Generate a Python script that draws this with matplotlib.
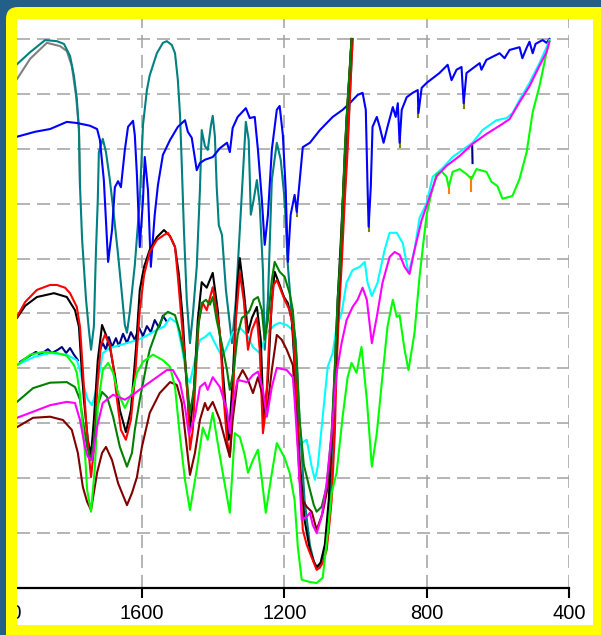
import matplotlib
matplotlib.use("Agg")
import matplotlib.pyplot as plt
from matplotlib.patches import FancyBboxPatch, Rectangle
import numpy as np

plt.rcParams['font.family'] = ['Liberation Sans', 'DejaVu Sans']
plt.rcParams['lines.scale_dashes'] = False

nan = np.nan

# IR spectra: (wavenumber cm-1, transmittance %)
gray_pts = [(1951, 92.7), (1914, 96.4), (1867, 99.3), (1830, 98.7), (1811, 97.8),
            (1797, 95.1), (1785, 89.6), (1777, 83.6), (1774, 73.2)]

teal_pts = [(1951, 95.4), (1914, 97.6), (1872, 99.8), (1839, 99.6), (1819, 99.1), (1802, 96.9),
            (1791, 93.3), (1783, 89.1), (1777, 83.6), (1774, 73.2), (1768, 63.4), (1757, 52.5),
            (1749, 47.0), (1743, 43.4), (1735, 47.6), (1729, 61.6), (1724, 70.7), (1721, 79.4),
            (1710, 81.8), (1701, 79.4), (1690, 74.3), (1679, 68.0), (1667, 60.7), (1656, 53.4),
            (1648, 47.9), (1642, 46.5), (1634, 50.3), (1620, 58.8), (1606, 70.7), (1597, 84.3),
            (1586, 90.7), (1578, 93.4), (1558, 97.4), (1541, 99.3), (1530, 99.6), (1516, 98.9),
            (1507, 97.4), (1499, 92.5), (1493, 86.2), (1488, 77.1), (1482, 65.2), (1474, 52.5),
            (1465, 44.6), (1457, 49.7), (1446, 58.5), (1437, 72.5), (1432, 83.4), (1423, 80.5),
            (1415, 79.8), (1406, 84.3), (1401, 86.0), (1395, 82.3), (1390, 73.2), (1384, 66.1),
            (1375, 64.3), (1364, 54.3), (1347, 44.6), (1336, 52.5), (1325, 65.2), (1314, 78.0),
            (1308, 84.9), (1300, 81.6), (1294, 68.0), (1286, 70.7), (1277, 74.3), (1269, 69.8),
            (1260, 57.9), (1255, 43.4), (1246, 52.5), (1235, 74.3), (1221, 81.1), (1210, 78.0),
            (1199, 70.7), (1190, 58.8), (1179, 49.7), (1168, 45.2), (1157, 30.6), (1143, 16.0),
            (1128, 7.8), (1117, 4.8), (1109, 3.7), (1098, 4.2), (1084, 7.8), (1072, 15.1),
            (1064, 25.2), (1055, 37.9), (1047, 52.5), (1036, 65.2), (1025, 78.0), (1016, 88.9),
            (1008, 100.0)]

blue_pts = [(1951, 82.2), (1900, 83.1), (1858, 83.6), (1811, 84.9), (1783, 84.7), (1746, 84.2),
            (1726, 83.6), (1718, 81.6), (1707, 74.3), (1695, 59.4), (1684, 65.2), (1676, 73.0),
            (1667, 74.1), (1659, 73.0), (1648, 79.8), (1639, 84.0), (1625, 85.1), (1620, 82.5),
            (1614, 75.2), (1606, 62.1), (1597, 70.7), (1592, 78.5), (1583, 72.5), (1575, 58.5),
            (1564, 68.0), (1555, 73.4), (1541, 78.9), (1521, 81.6), (1499, 84.0), (1479, 85.2),
            (1471, 83.1), (1460, 82.0), (1446, 76.1), (1437, 77.4), (1423, 78.0), (1401, 78.5),
            (1381, 80.1), (1361, 81.1), (1353, 79.4), (1345, 83.8), (1331, 85.8), (1308, 87.4),
            (1297, 85.6), (1283, 85.8), (1274, 79.8), (1263, 70.7), (1255, 62.5), (1246, 67.9),
            (1235, 79.8), (1221, 87.1), (1213, 87.8), (1204, 82.5), (1196, 72.5), (1190, 59.4),
            (1182, 68.0), (1171, 71.6), (1165, 68.5), (1157, 74.0), (1148, 80.3), (1128, 81.1),
            (1100, 83.4), (1064, 85.8), (1036, 87.1), (1016, 88.3), (994, 89.8), (980, 90.2),
            (971, 87.1), (966, 73.0), (963, 65.8), (957, 73.0), (952, 84.0), (940, 85.8),
            (932, 84.0), (921, 81.1), (910, 84.0), (895, 87.6), (887, 85.8), (881, 88.3),
            (876, 81.1), (870, 87.1), (856, 89.4), (839, 90.2), (825, 90.7), (823, 86.5),
            (814, 91.1), (800, 92.0), (764, 93.8), (741, 95.3), (730, 92.5), (716, 94.4),
            (702, 94.9), (696, 88.3), (688, 93.8), (651, 95.6), (646, 94.4), (632, 96.2),
            (595, 97.4), (581, 96.5), (567, 98.0), (539, 98.5), (531, 96.5), (519, 98.4),
            (511, 99.5), (502, 97.4), (494, 99.1), (483, 99.5), (474, 99.8), (463, 99.3),
            (455, 100.0)]

olive_pts = [(963, 67.0), (963, 65.0), (nan, nan), (876, 82.0), (876, 80.3), (nan, nan),
             (823, 87.4), (823, 85.7), (nan, nan), (696, 89.0), (696, 87.5), (nan, nan),
             (1165, 69.5), (1165, 67.8)]

black_pts = [(1951, 49.2), (1928, 51.4), (1895, 53.0), (1847, 53.7), (1811, 53.0), (1788, 50.6),
             (1777, 47.6), (1771, 41.5), (1763, 34.3), (1752, 27.0), (1743, 24.2), (1735, 30.6),
             (1724, 41.5), (1712, 47.9), (1701, 46.1), (1690, 43.9), (1676, 38.8), (1662, 32.4),
             (1645, 28.4), (1631, 32.4), (1617, 43.4), (1606, 54.3), (1594, 58.5), (1578, 61.6),
             (1558, 63.9), (1538, 65.2), (1521, 64.1), (1507, 62.1), (1496, 57.0), (1485, 48.8),
             (1477, 39.7), (1465, 28.8), (1454, 36.1), (1443, 48.8), (1432, 55.7), (1418, 54.7),
             (1401, 57.4), (1387, 50.6), (1375, 41.5), (1364, 32.4), (1356, 27.0), (1345, 37.9),
             (1333, 54.3), (1325, 60.1), (1314, 54.3), (1302, 46.5), (1291, 49.2), (1277, 51.2),
             (1266, 45.2), (1258, 30.6), (1246, 37.9), (1235, 52.5), (1227, 57.6), (1213, 55.2),
             (1201, 53.0), (1190, 51.9), (1179, 48.8), (1168, 37.9), (1157, 23.3), (1143, 12.4),
             (1128, 6.9), (1117, 4.8), (1109, 3.8), (1098, 4.6), (1086, 7.9), (1075, 16.0),
             (1067, 27.0), (1058, 39.7), (1050, 52.5), (1041, 63.4), (1033, 74.3), (1025, 85.2),
             (1016, 94.4), (1011, 100.0)]

red_pts = [(1951, 49.4), (1928, 52.1), (1895, 54.3), (1858, 55.2), (1839, 55.2), (1816, 54.7),
           (1802, 53.7), (1783, 51.2), (1774, 47.6), (1766, 39.7), (1757, 30.6), (1749, 24.2),
           (1743, 20.2), (1735, 25.2), (1724, 37.9), (1715, 44.3), (1704, 46.1), (1690, 44.3),
           (1681, 40.6), (1670, 34.3), (1659, 28.8), (1645, 27.0), (1631, 30.6), (1620, 37.9),
           (1606, 50.6), (1594, 57.0), (1578, 61.2), (1558, 63.4), (1538, 64.3), (1527, 64.7),
           (1516, 63.4), (1507, 62.1), (1499, 56.7), (1488, 48.3), (1479, 41.5), (1471, 34.3),
           (1465, 25.2), (1457, 28.8), (1448, 39.7), (1440, 48.8), (1429, 51.9), (1418, 50.6),
           (1409, 52.8), (1401, 54.8), (1390, 50.6), (1381, 46.5), (1370, 34.3), (1361, 27.0),
           (1353, 23.9), (1345, 32.4), (1336, 48.8), (1325, 57.4), (1314, 52.5), (1302, 43.4),
           (1291, 47.0), (1277, 49.2), (1269, 43.4), (1260, 28.2), (1252, 32.4), (1241, 47.0),
           (1230, 55.2), (1221, 56.1), (1210, 54.3), (1199, 52.5), (1185, 50.6), (1176, 47.6),
           (1165, 34.3), (1157, 21.5), (1148, 10.6), (1137, 7.9), (1128, 6.4), (1117, 4.6),
           (1109, 3.3), (1100, 3.7), (1092, 4.6), (1081, 6.9), (1072, 12.4), (1067, 16.0),
           (1058, 28.2), (1053, 40.3), (1047, 49.4), (1039, 58.5), (1030, 70.7), (1022, 79.8),
           (1016, 88.9), (1008, 100.0)]

green_pts = [(1951, 33.9), (1906, 36.4), (1858, 37.4), (1811, 37.5), (1788, 36.6), (1774, 34.3),
             (1766, 30.6), (1754, 25.7), (1743, 23.3), (1735, 27.0), (1726, 33.0), (1712, 35.7),
             (1698, 34.8), (1681, 31.2), (1662, 25.7), (1642, 22.1), (1628, 24.6), (1620, 28.8),
             (1606, 34.3), (1586, 41.0), (1578, 43.4), (1558, 47.0), (1538, 49.7), (1527, 50.3),
             (1507, 49.7), (1493, 46.5), (1479, 41.5), (1465, 31.9), (1454, 36.1), (1443, 47.0),
             (1432, 51.9), (1420, 52.5), (1409, 51.6), (1401, 53.0), (1390, 48.8), (1375, 44.3),
             (1361, 39.7), (1353, 36.1), (1342, 39.7), (1331, 46.1), (1319, 49.2), (1308, 49.7),
             (1297, 50.6), (1286, 52.5), (1274, 53.0), (1263, 50.6), (1255, 45.2), (1246, 48.8),
             (1235, 56.1), (1227, 59.4), (1213, 57.6), (1199, 56.7), (1185, 53.7), (1176, 50.6),
             (1165, 41.5), (1157, 30.6), (1145, 22.4), (1128, 17.9), (1117, 15.1), (1109, 13.9),
             (1095, 14.8), (1081, 18.4), (1067, 28.2), (1058, 40.3), (1050, 52.5), (1041, 61.6),
             (1030, 79.8), (1022, 88.9), (1016, 94.9), (1011, 100.0)]

brown_pts = [(1951, 29.3), (1906, 31.0), (1858, 31.2), (1822, 30.6), (1797, 28.8), (1780, 24.6),
             (1766, 18.4), (1754, 15.7), (1743, 14.2), (1726, 21.0), (1712, 24.6), (1701, 25.7),
             (1684, 23.3), (1667, 19.1), (1642, 15.1), (1628, 17.3), (1614, 20.2), (1600, 25.7),
             (1578, 31.9), (1550, 35.5), (1521, 37.5), (1502, 37.0), (1488, 33.7), (1474, 25.7),
             (1465, 20.6), (1451, 24.6), (1437, 30.6), (1423, 33.7), (1415, 32.4), (1401, 33.9),
             (1381, 30.6), (1361, 25.7), (1353, 23.9), (1345, 30.6), (1331, 37.9), (1317, 39.7),
             (1302, 37.9), (1288, 35.5), (1274, 38.4), (1260, 34.8), (1249, 31.9), (1235, 39.7),
             (1221, 46.1), (1207, 45.2), (1193, 43.4), (1176, 40.6), (1165, 30.6), (1157, 19.7),
             (1148, 16.0), (1137, 14.8), (1123, 13.9), (1109, 10.6), (1092, 13.7), (1078, 18.4),
             (1067, 26.1), (1058, 36.1), (1050, 48.8), (1041, 61.6), (1033, 74.3), (1025, 85.2),
             (1016, 94.4), (1011, 100.0)]

lime_pts = [(1951, 40.6), (1914, 42.5), (1878, 43.0), (1839, 42.8), (1811, 42.3), (1791, 40.6),
            (1783, 39.2), (1774, 35.2), (1768, 30.6), (1760, 24.6), (1754, 17.9), (1743, 13.9),
            (1732, 22.1), (1724, 33.0), (1710, 39.7), (1695, 41.0), (1681, 39.2), (1667, 35.5),
            (1648, 32.8), (1628, 35.5), (1614, 39.2), (1597, 41.2), (1569, 42.5), (1541, 41.5),
            (1521, 40.3), (1507, 36.6), (1493, 27.5), (1479, 19.7), (1465, 14.2), (1446, 21.5),
            (1429, 29.2), (1415, 27.0), (1401, 31.9), (1387, 26.4), (1373, 21.0), (1353, 13.7),
            (1339, 28.2), (1325, 27.5), (1311, 24.2), (1302, 21.0), (1288, 23.3), (1274, 25.2),
            (1263, 19.7), (1252, 13.7), (1238, 19.7), (1221, 26.4), (1199, 23.7), (1185, 21.0),
            (1171, 16.0), (1162, 7.5), (1151, 1.5), (1128, 1.1), (1109, 0.9), (1092, 1.9),
            (1078, 10.0), (1067, 17.3), (1053, 21.0), (1036, 31.2), (1022, 38.4), (1011, 41.0),
            (997, 39.2), (983, 43.9), (968, 34.3), (954, 22.1), (940, 28.2), (926, 37.4),
            (910, 47.6), (895, 52.5), (884, 49.4), (876, 49.7), (862, 43.4), (851, 39.7),
            (834, 46.5), (820, 56.7), (806, 64.7), (800, 68.0), (786, 72.1), (772, 75.4),
            (758, 75.9), (744, 74.9), (738, 73.0), (727, 75.8), (707, 76.3), (688, 75.4),
            (674, 74.5), (660, 76.3), (632, 75.8), (618, 74.0), (601, 73.2), (587, 70.9),
            (559, 71.4), (539, 74.5), (519, 79.4), (502, 86.7), (483, 91.4), (463, 97.6),
            (455, 99.6)]

orange_pts = [(674, 74.8), (674, 72.4), (nan, nan), (738, 73.4), (738, 72.0)]

navy_pts = [(1942, 41.2), (1920, 42.1), (1898, 43.0), (1886, 42.5), (1864, 43.5), (1853, 42.8),
            (1836, 43.4), (1825, 43.9), (1813, 42.8), (1802, 43.7), (1791, 42.5), (1780, 41.5),
            (nan, nan),
            (1718, 43.4), (1710, 44.6), (1701, 43.4), (1693, 45.7), (1684, 43.9), (1673, 45.5),
            (1665, 44.1), (1653, 46.3), (1642, 44.6), (1631, 46.6), (1620, 45.2), (1608, 47.4),
            (1597, 45.9), (1586, 47.7), (1575, 46.6), (1564, 48.8), (1552, 47.4), (1541, 49.6),
            (1530, 48.5),
            (nan, nan), (672, 80.5), (671, 77.4)]

cyan_pts = [(1951, 40.6), (1903, 42.1), (1858, 42.8), (1811, 42.5), (1783, 41.5), (1774, 39.7),
            (1763, 36.6), (1752, 34.3), (1740, 33.3), (1726, 36.6), (1710, 42.8), (1690, 43.7),
            (1670, 44.1), (1648, 44.5), (1622, 45.0), (1600, 45.5), (1578, 46.3), (1558, 47.0),
            (1538, 47.6), (1521, 49.2), (1502, 48.3), (1488, 43.9), (1474, 38.4), (1465, 37.4),
            (1451, 41.5), (1437, 45.2), (1423, 45.7), (1409, 46.5), (1395, 44.6), (1375, 42.1),
            (1361, 43.9), (1345, 46.5), (1325, 47.4), (1305, 46.1), (1288, 43.9), (1269, 42.8),
            (1249, 46.5), (1227, 47.9), (1213, 48.3), (1193, 47.9), (1176, 47.0), (1171, 40.3),
            (1162, 31.2), (1151, 26.4), (1137, 27.0), (1123, 22.1), (1114, 19.7), (1106, 22.1),
            (1092, 31.2), (1078, 40.3), (1064, 42.8), (1053, 47.6), (1039, 50.1), (1025, 55.6),
            (1008, 57.9), (988, 58.5), (974, 59.4), (966, 55.6), (954, 53.2), (938, 55.6),
            (918, 61.6), (904, 64.7), (884, 64.7), (867, 62.8), (851, 57.4), (834, 61.6),
            (820, 67.4), (800, 70.1), (783, 74.9), (755, 76.5), (727, 78.5), (699, 79.8),
            (671, 81.1), (643, 83.4), (604, 85.2), (575, 85.6), (559, 86.5), (539, 88.9),
            (511, 92.0), (483, 95.6), (463, 98.5), (455, 99.8)]

magenta_pts = [(1951, 31.0), (1906, 32.1), (1858, 33.3), (1811, 33.9), (1788, 33.7), (1774, 30.6),
               (1760, 25.7), (1752, 23.9), (1740, 23.3), (1726, 29.3), (1710, 33.7), (1681, 35.2),
               (1648, 34.3), (1625, 35.2), (1597, 36.6), (1558, 38.4), (1530, 39.7), (1513, 39.7),
               (1493, 37.4), (1479, 33.0), (1468, 27.9), (1451, 31.2), (1437, 36.6), (1423, 37.4),
               (1415, 36.1), (1401, 38.4), (1381, 36.6), (1361, 32.4), (1353, 28.2), (1345, 33.7),
               (1331, 37.9), (1305, 37.5), (1288, 38.8), (1274, 39.4), (1260, 36.1), (1249, 31.2),
               (1235, 36.6), (1221, 40.1), (1193, 39.7), (1176, 38.4), (1171, 34.3), (1162, 25.2),
               (1151, 12.4), (1137, 13.0), (1128, 13.7), (1120, 11.5), (1109, 10.0), (1095, 13.0),
               (1081, 19.1), (1067, 28.2), (1053, 39.2), (1039, 44.6), (1025, 48.8), (1008, 51.2),
               (994, 52.5), (980, 54.7), (968, 52.5), (954, 44.6), (940, 49.4), (924, 55.6),
               (904, 60.3), (890, 61.2), (876, 60.7), (862, 58.5), (848, 57.2), (834, 61.6),
               (814, 67.0), (800, 69.6), (772, 75.0), (744, 76.9), (707, 78.7), (671, 80.9),
               (632, 82.7), (595, 84.2), (567, 85.4), (539, 88.5), (511, 91.4), (483, 95.1),
               (463, 97.6), (455, 99.5)]

series = [
    (gray_pts, '#808080'),
    (teal_pts, '#008080'),
    (olive_pts, '#808000'),
    (blue_pts, '#0000FF'),
    (navy_pts, '#000080'),
    (cyan_pts, '#00FFFF'),
    (black_pts, '#000000'),
    (red_pts, '#FF0000'),
    (brown_pts, '#800000'),
    (green_pts, '#008000'),
    (orange_pts, '#FF8000'),
    (lime_pts, '#00FF00'),
    (magenta_pts, '#FF00FF'),
]

x_ticks = [1600, 1200, 800, 400]
y_grid = list(range(10, 101, 10))

bg = '#22608a'
fig = plt.figure(figsize=(6.01, 6.35), dpi=100, facecolor=bg)

# yellow frame and white panel
frame = FancyBboxPatch((0.06, -0.3), 6.3, 6.58, boxstyle='round,pad=0,rounding_size=0.12',
                       transform=fig.dpi_scale_trans, facecolor='#FFFF00', edgecolor='none', zorder=-3)
panel = Rectangle((0.17, 0.10), 5.76, 6.06, transform=fig.dpi_scale_trans,
                  facecolor='white', edgecolor='none', zorder=-2)
fig.patches.extend([frame, panel])

ax = fig.add_axes([17 / 601, 47 / 635, 552 / 601, 569 / 635])
ax.set_facecolor('none')

for pts, col in series:
    arr = np.array(pts, dtype=float)
    ax.plot(arr[:, 0], arr[:, 1], color=col, linewidth=1.5, solid_joinstyle='round')

ax.set_xlim(1951, 400)
ax.set_ylim(0, 103.64)
ax.set_xticks(x_ticks)
ax.set_xticklabels([str(v) for v in x_ticks], fontsize=14.4)
ax.set_yticks(y_grid)
ax.tick_params(axis='y', length=0, labelleft=False)
ax.tick_params(axis='x', direction='out', length=7.2, width=1.5, pad=4, colors='black')
ax.grid(True, color='#a0a0a0', linestyle=(0, (9.4, 5.0)), linewidth=1.1)
ax.set_axisbelow(True)
for side in ['top', 'right', 'left']:
    ax.spines[side].set_visible(False)
ax.spines['bottom'].set_linewidth(1.6)
ax.spines['bottom'].set_color('black')

# 2000 label sits mostly under the frame
ax.annotate('2000', xy=(2000, 0), xycoords='data', xytext=(0, -11.2), textcoords='offset points',
            ha='center', va='top', fontsize=14.4, annotation_clip=False)
fig.patches.append(Rectangle((0.06, 0), 0.11, 0.6, transform=fig.dpi_scale_trans,
                             facecolor='#FFFF00', edgecolor='none', zorder=5))
fig.patches.append(Rectangle((0, 0), 0.06, 0.6, transform=fig.dpi_scale_trans,
                             facecolor=bg, edgecolor='none', zorder=5))

fig.savefig('out.png', dpi=100, facecolor=bg)
plt.close(fig)
